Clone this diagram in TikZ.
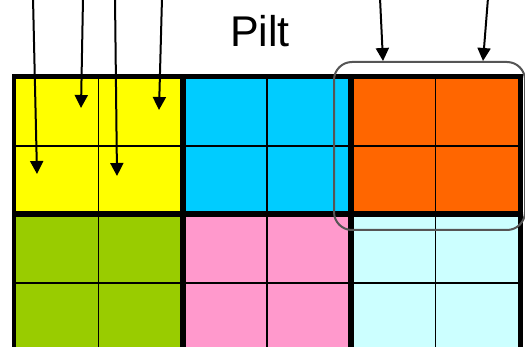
\documentclass[tikz,border=0pt]{standalone}
\usepackage{fontspec}
\setmainfont{Liberation Sans}
\usetikzlibrary{arrows.meta}
\definecolor{blkyellow}{HTML}{FFFF00}
\definecolor{blkcyan}{HTML}{00CCFF}
\definecolor{blkorange}{HTML}{FF6600}
\definecolor{blkgreen}{HTML}{99CC00}
\definecolor{blkpink}{HTML}{FF99CC}
\definecolor{blkice}{HTML}{CCFFFF}
\definecolor{framegray}{HTML}{555555}
\tikzset{
  block/.style={draw, line width=3pt, minimum width=168.33pt, minimum height=137pt,
                inner sep=0pt, anchor=north west},
  thinline/.style={line width=1.2pt},
  readarrow/.style={-{Triangle[width=13pt,length=13pt]}, line width=2pt},
  cacheframe/.style={draw=framegray, line width=2pt, rounded corners=18pt},
}

\begin{document}
\begin{tikzpicture}[x=1pt,y=-1pt]
    \useasboundingbox (0,0) rectangle (525,347);
    \clip (0,0) rectangle (525,347);
    % blocks of 2x2 cells
    \node[block, fill=blkyellow] (b00) at (13, 76) {};
    \node[block, fill=blkcyan] (b10) at (181.33, 76) {};
    \node[block, fill=blkorange] (b20) at (349.67, 76) {};
    \node[block, fill=blkgreen] (b01) at (13, 213) {};
    \node[block, fill=blkpink] (b11) at (181.33, 213) {};
    \node[block, fill=blkice] (b21) at (349.67, 213) {};
    % inner cell lines
    \foreach \b in {b00, b10, b20, b01, b11, b21} {
      \draw[thinline] (\b.north) -- (\b.south);
      \draw[thinline] (\b.west) -- (\b.east);
    }
    % block borders on top
    \foreach \b in {b00, b10, b20, b01, b11, b21}
      \draw[line width=3pt] (\b.north west) rectangle (\b.south east);
    % title
    \node[font=\fontsize{43}{50}\selectfont] (title) at (260, 31) {Pilt};
    % cached line
    \node[cacheframe, minimum width=191pt, minimum height=168pt, anchor=north west] (cache) at (333, 61) {};
    % reads
    \coordinate (s1) at (33, -2);  \coordinate (t1) at (37, 174);
    \coordinate (s2) at (83, -2);  \coordinate (t2) at (81, 108);
    \coordinate (s3) at (115, -2); \coordinate (t3) at (117, 176);
    \coordinate (s4) at (162, -2); \coordinate (t4) at (159, 110);
    \coordinate (s5) at (380, -2); \coordinate (t5) at (383, 61);
    \coordinate (s6) at (488, -2); \coordinate (t6) at (483, 61);
    \foreach \i in {1,...,6}
      \draw[readarrow] (s\i) -- (t\i);
  \end{tikzpicture}
\end{document}
